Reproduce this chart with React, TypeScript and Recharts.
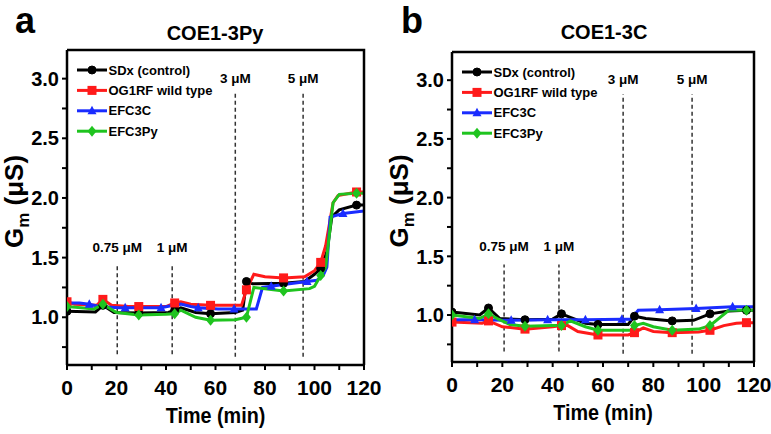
import React from 'react';
import { LineChart, Line, XAxis, YAxis, ReferenceLine } from 'recharts';

type P = [number, number];

const TIME_TICKS = [0, 10, 20, 30, 40, 50, 60, 70, 80, 90, 100, 110, 120];
const TIME_LABELS = [0, 20, 40, 60, 80, 100, 120];
const GM_TICKS = [0.75, 1, 1.25, 1.5, 1.75, 2, 2.25, 2.5, 2.75, 3];
const GM_LABELS = [1, 1.5, 2, 2.5, 3];

const SERIES_NAMES = ['SDx (control)', 'OG1RF wild type', 'EFC3C', 'EFC3Py'];
const SERIES_COLORS = ['#000000', '#ff1a1a', '#1a2cff', '#1fc41f'];
const SERIES_SHAPES = ['circle', 'square', 'triangle', 'diamond'];

const MARK_T = [0, 14.5, 29, 43.5, 58, 72.5, 87.5, 102.5, 117];
const MARK_T_BLUE = [9, 23.5, 38, 53, 67.5, 82.5, 97, 111.5];

const DOSE_LABELS = ['0.75 μM', '1 μM', '3 μM', '5 μM'];
const DOSE_T_A = [20.3, 42.5, 68, 95.4];
const DOSE_T_B = [20.7, 42.5, 68, 95.4];
const DOSE_Y_LOW = [0.69, 0.69, 0.67, 0.67];
const DOSE_Y_HIGH = [1.43, 1.43, 2.88, 2.88];

// Panel a: COE1-3Py
const A_SDX: P[] = [[0, 1.05], [11.5, 1.045], [14.5, 1.1], [19, 1.04], [29, 1.035], [41, 1.04], [43.5, 1.06], [46, 1.08], [52, 1.04], [58, 1.03], [68, 1.04], [71, 1.06], [72.5, 1.3], [75, 1.28], [87.5, 1.285], [96, 1.3], [100, 1.36], [102.5, 1.41], [105, 1.55], [107, 1.84], [110, 1.9], [117, 1.94], [120, 1.94]];
const A_OG1RF: P[] = [[0, 1.13], [3, 1.11], [12, 1.1], [14.5, 1.15], [18, 1.1], [25, 1.09], [29, 1.09], [40, 1.09], [43.5, 1.12], [46, 1.13], [50, 1.11], [58, 1.1], [70.5, 1.1], [72.5, 1.23], [75.5, 1.36], [80, 1.34], [87.5, 1.33], [96, 1.34], [100, 1.39], [102.5, 1.46], [104.5, 1.6], [107.5, 1.96], [109.5, 2.02], [117, 2.05], [120, 2.05]];
const A_EFC3C: P[] = [[0, 1.12], [5, 1.12], [9, 1.11], [13, 1.09], [21, 1.08], [23.5, 1.08], [38, 1.08], [43, 1.1], [46, 1.11], [50, 1.09], [53, 1.08], [61, 1.07], [67.5, 1.07], [76.5, 1.07], [79, 1.25], [82.5, 1.26], [87.5, 1.275], [97, 1.3], [101, 1.31], [103.5, 1.35], [105, 1.42], [106.3, 1.84], [111.5, 1.87], [120, 1.89]];
const A_EFC3PY: P[] = [[0, 1.09], [11, 1.07], [14.5, 1.11], [20, 1.04], [29, 1.02], [40, 1.025], [43.5, 1.03], [46, 1.06], [52, 1.0], [58, 0.975], [68, 0.98], [72.5, 1.0], [75.5, 1.25], [80, 1.24], [87.5, 1.22], [98, 1.24], [100, 1.26], [102.5, 1.35], [104.5, 1.42], [107.5, 1.96], [110, 2.03], [117, 2.04], [120, 2.04]];

// Panel b: COE1-3C
const B_SDX: P[] = [[0, 1.025], [11, 1.0], [14.5, 1.06], [19, 0.97], [29, 0.96], [40, 0.965], [43.5, 1.01], [47, 0.98], [53, 0.93], [58, 0.92], [70, 0.92], [72.5, 0.99], [77, 0.97], [87.5, 0.95], [96, 0.955], [102.5, 1.01], [110, 1.035], [117, 1.04], [120, 1.04]];
const B_OG1RF: P[] = [[0, 0.94], [12, 0.93], [14.5, 0.95], [20, 0.9], [29, 0.88], [40, 0.9], [43.5, 0.91], [46, 0.91], [50, 0.86], [58, 0.83], [70, 0.83], [72.5, 0.85], [76, 0.89], [80, 0.86], [87.5, 0.85], [98, 0.855], [102.5, 0.87], [108, 0.91], [113, 0.93], [117, 0.935], [120, 0.935]];
const B_EFC3C: P[] = [[0, 0.96], [9, 0.96], [14, 0.96], [20, 0.955], [23.5, 0.955], [38, 0.96], [53, 0.96], [67.5, 0.965], [71, 0.965], [74, 1.04], [82.5, 1.045], [97, 1.055], [111.5, 1.07], [120, 1.07]];
const B_EFC3PY: P[] = [[0, 1.0], [11, 0.97], [14.5, 1.01], [18, 0.97], [23, 0.92], [29, 0.905], [40, 0.91], [43.5, 0.91], [47, 0.95], [53, 0.9], [58, 0.87], [71, 0.87], [72.5, 0.91], [76, 0.93], [80, 0.9], [87.5, 0.87], [98, 0.88], [102.5, 0.91], [110, 1.04], [117, 1.04], [120, 1.04]];

const FONT = '"Liberation Sans", Arial, sans-serif';
const X_DOMAIN: [number, number] = [0, 120];
const Y_DOMAIN: [number, number] = [0.6, 3.24];

const toPts = (arr: P[]) => arr.map(([t, v]) => ({ t, v }));

function Marker({ shape, cx, cy, color }: any) {
  if (shape === 'circle') return <circle cx={cx} cy={cy} r={4} fill={color} stroke={color} />;
  if (shape === 'square') return <rect x={cx - 4.5} y={cy - 4.5} width={9} height={9} fill={color} />;
  if (shape === 'triangle')
    return <polygon points={`${cx},${cy - 5} ${cx - 4.5},${cy + 3.5} ${cx + 4.5},${cy + 3.5}`} fill={color} />;
  return <polygon points={`${cx},${cy - 5.5} ${cx + 4.5},${cy} ${cx},${cy + 5.5} ${cx - 4.5},${cy}`} fill={color} />;
}

const makeDot = (shape: string, color: string, marks: number[]) => (p: any) => {
  const { cx, cy, payload, index } = p;
  if (!payload || !marks.includes(payload.t)) return <g key={`d${index}`} />;
  return (
    <g key={`d${index}`}>
      <Marker shape={shape} cx={cx} cy={cy} color={color} />
    </g>
  );
};

const XTick = (props: any) => {
  const { x, y, payload } = props;
  if (!TIME_LABELS.includes(payload.value)) return <g />;
  return (
    <text x={x} y={y} dy="0.71em" textAnchor="middle" fontSize={21} fontWeight="bold" fill="#000" fontFamily={FONT}>
      {payload.value}
    </text>
  );
};

const YTick = (props: any) => {
  const { x, y, payload } = props;
  if (!GM_LABELS.includes(payload.value)) return <g />;
  return (
    <text x={x} y={y} dy="0.36em" textAnchor="end" fontSize={20} fontWeight="bold" fill="#000" fontFamily={FONT}>
      {Number(payload.value).toFixed(1)}
    </text>
  );
};

const XLabel = (props: any) => {
  const vb = props.viewBox || { x: 0, y: 0, width: 0, height: 0 };
  const cx = vb.x + vb.width / 2;
  return (
    <text x={cx} y={vb.y + 58} textAnchor="middle" fontSize={22} fontWeight="bold" fill="#000" fontFamily={FONT}
      transform={`translate(${cx} 0) scale(0.9 1) translate(${-cx} 0)`}>
      Time (min)
    </text>
  );
};

const YLabel = (props: any) => {
  const vb = props.viewBox || { x: 0, y: 0, width: 0, height: 0 };
  const cx = vb.x + 23;
  const cy = vb.y + vb.height / 2 - 6;
  return (
    <text x={cx} y={cy} textAnchor="middle" fontSize={26} fontWeight="bold" fill="#000" fontFamily={FONT}
      transform={`rotate(-90 ${cx} ${cy})`}>
      G<tspan fontSize={17} dy={6}>m</tspan><tspan dy={-6}> (μS)</tspan>
    </text>
  );
};

function Panel({ series, doseT, width, marginTop, marginRight, xAxisHeight }: any) {
  const blueIdx = 2;
  const axisStroke = { stroke: '#000', strokeWidth: 2.5 };
  return (
    <LineChart width={width} height={434} margin={{ top: marginTop, right: marginRight, bottom: 0, left: 0 }}>
      <XAxis
        dataKey="t"
        type="number"
        domain={X_DOMAIN}
        ticks={TIME_TICKS}
        interval={0}
        allowDataOverflow
        height={xAxisHeight}
        tickSize={5}
        tickMargin={10}
        axisLine={axisStroke}
        tickLine={{ stroke: '#000', strokeWidth: 2 }}
        tick={XTick}
        label={{ content: XLabel }}
      />
      <YAxis
        type="number"
        domain={Y_DOMAIN}
        ticks={GM_TICKS}
        interval={0}
        allowDataOverflow
        width={67}
        tickSize={5}
        tickMargin={3}
        axisLine={axisStroke}
        tickLine={{ stroke: '#000', strokeWidth: 2 }}
        tick={YTick}
        label={{ content: YLabel }}
      />
      {doseT.map((t: number, i: number) => (
        <ReferenceLine
          key={`dose${i}`}
          segment={[{ x: t, y: DOSE_Y_LOW[i] }, { x: t, y: DOSE_Y_HIGH[i] }]}
          stroke="#333"
          strokeWidth={1.5}
          strokeDasharray="4 3"
          label={{
            value: DOSE_LABELS[i],
            position: 'top',
            offset: i < 2 ? 14 : 10,
            fontSize: 13.5,
            fontWeight: 'bold',
            fill: '#000',
            fontFamily: FONT,
          }}
        />
      ))}
      {series.map((s: P[], i: number) => (
        <Line
          key={SERIES_NAMES[i]}
          data={toPts(s)}
          dataKey="v"
          name={SERIES_NAMES[i]}
          type="linear"
          stroke={SERIES_COLORS[i]}
          strokeWidth={3}
          dot={makeDot(SERIES_SHAPES[i], SERIES_COLORS[i], i === blueIdx ? MARK_T_BLUE : MARK_T)}
          activeDot={false}
          isAnimationActive={false}
        />
      ))}
    </LineChart>
  );
}

function LegendBlock({ x, y }: { x: number; y: number }) {
  return (
    <g>
      {SERIES_NAMES.map((name, i) => {
        const cy = y + i * 20.4;
        return (
          <g key={name}>
            <line x1={x} x2={x + 30} y1={cy} y2={cy} stroke={SERIES_COLORS[i]} strokeWidth={3} />
            <Marker shape={SERIES_SHAPES[i]} cx={x + 15} cy={cy} color={SERIES_COLORS[i]} />
            <text x={x + 31.5} y={cy} dy="0.36em" fontSize={13} fontWeight="bold" fill="#000" fontFamily={FONT}>
              {name}
            </text>
          </g>
        );
      })}
    </g>
  );
}

// Top and right borders of each plot box (layout only)
function BoxEdges({ left, top, right, bottom }: { left: number; top: number; right: number; bottom: number }) {
  return (
    <polyline points={`${left},${top} ${right},${top} ${right},${bottom}`} fill="none" stroke="#000" strokeWidth={2.5} />
  );
}

export default function App() {
  return (
    <div style={{ position: 'absolute', left: 0, top: 0, width: 771, height: 434, background: '#fff', fontFamily: FONT }}>
      <div style={{ position: 'absolute', left: 0, top: 0 }}>
        <Panel series={[A_SDX, A_OG1RF, A_EFC3C, A_EFC3PY]} doseT={DOSE_T_A} width={385} marginTop={50} marginRight={21} xAxisHeight={69} />
      </div>
      <div style={{ position: 'absolute', left: 385, top: 0 }}>
        <Panel series={[B_SDX, B_OG1RF, B_EFC3C, B_EFC3PY]} doseT={DOSE_T_B} width={386} marginTop={52} marginRight={17} xAxisHeight={72} />
      </div>
      <svg width={771} height={434} style={{ position: 'absolute', left: 0, top: 0, pointerEvents: 'none' }}>
        <BoxEdges left={67} top={50} right={364} bottom={365} />
        <BoxEdges left={452} top={52} right={754} bottom={362} />
        <text x={15} y={33} fontSize={36} fontWeight="bold" fill="#000" fontFamily={FONT}>a</text>
        <text x={401} y={33} fontSize={36} fontWeight="bold" fill="#000" fontFamily={FONT}>b</text>
        <text x={215} y={40} textAnchor="middle" fontSize={20} fontWeight="bold" fill="#000" fontFamily={FONT}>COE1-3Py</text>
        <text x={604} y={39} textAnchor="middle" fontSize={20} fontWeight="bold" fill="#000" fontFamily={FONT}>COE1-3C</text>
        <LegendBlock x={77} y={70} />
        <LegendBlock x={462} y={72} />
      </svg>
    </div>
  );
}
